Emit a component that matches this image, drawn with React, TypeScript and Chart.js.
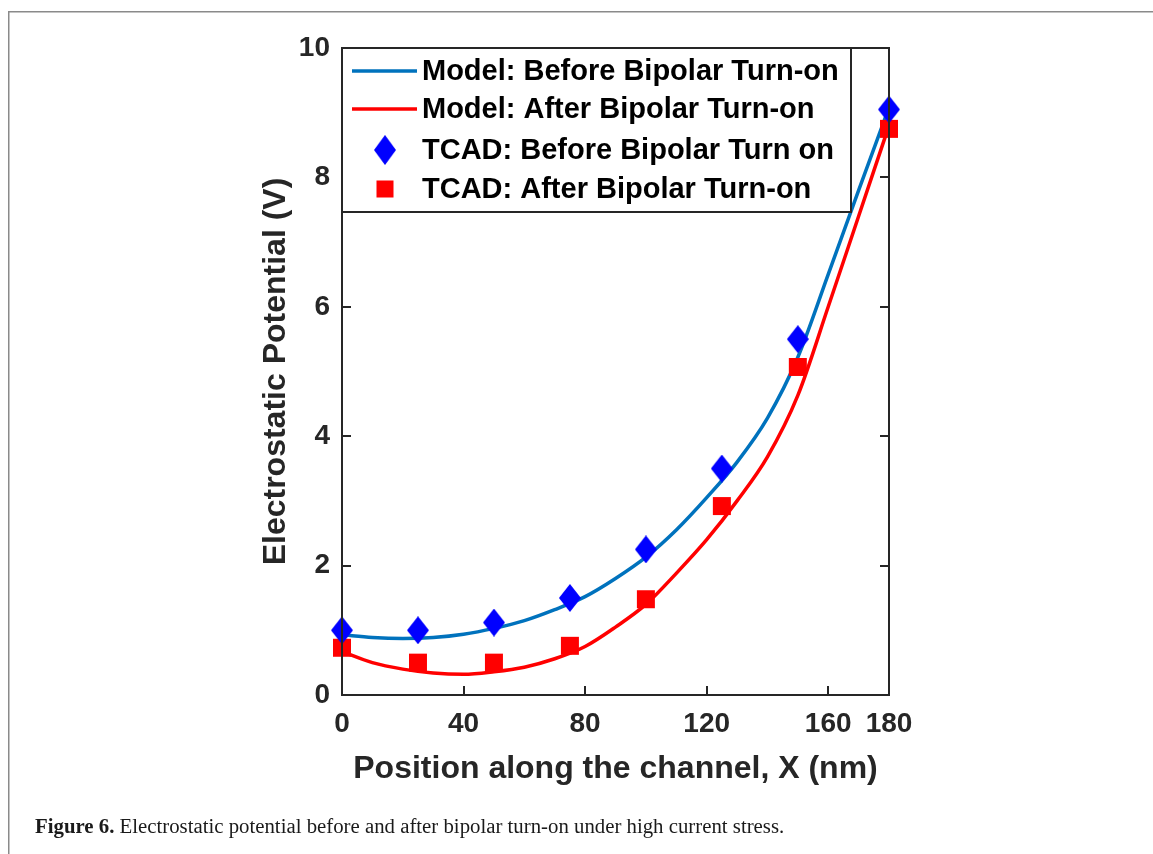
import React, { useEffect, useRef } from "react";
import { Chart, registerables } from "chart.js";

Chart.register(...registerables);

// ---------- data ----------
const modelX = [0, 10, 20, 30, 40, 50, 60, 70, 80, 90, 100, 110, 120, 130, 140, 150, 160, 170, 180];
const modelBefore = [0.93, 0.89, 0.875, 0.89, 0.94, 1.03, 1.15, 1.32, 1.52, 1.8, 2.13, 2.55, 3.05, 3.6, 4.28, 5.22, 6.5, 7.8, 9.08];
const modelAfter = [0.67, 0.5, 0.4, 0.34, 0.32, 0.36, 0.43, 0.56, 0.75, 1.05, 1.4, 1.88, 2.4, 3.0, 3.68, 4.63, 6.0, 7.4, 8.8];
const tcadX = [0, 25, 50, 75, 100, 125, 150, 180];
const tcadBefore = [1.0, 1.0, 1.12, 1.5, 2.25, 3.5, 5.5, 9.05];
const tcadAfter = [0.73, 0.5, 0.5, 0.76, 1.48, 2.92, 5.07, 8.75];
const xTickValues = [0, 40, 80, 120, 160, 180];
const yTickValues = [0, 2, 4, 6, 8, 10];
const seriesLabels = [
  "Model: Before Bipolar Turn-on",
  "Model: After Bipolar Turn-on",
  "TCAD: Before Bipolar Turn on",
  "TCAD: After Bipolar Turn-on",
];
const xTitle = "Position along the channel, X (nm)";
const yTitle = "Electrostatic Potential (V)";
const captionLead = "Figure 6.";
const captionBody = " Electrostatic potential before and after bipolar turn-on under high current stress.";

// ---------- styles ----------
const SANS = "'Liberation Sans', Arial, Helvetica, sans-serif";
const SERIF = "'Liberation Serif', 'Times New Roman', serif";
const AXIS_COLOR = "#262626";
const BLUE_LINE = "#0072BD";
const RED = "#FF0000";
const BLUE_MARK = "#0000FF";

function makeDiamond(w: number, h: number, color: string) {
  const c = document.createElement("canvas");
  c.width = w;
  c.height = h;
  const g = c.getContext("2d")!;
  g.fillStyle = color;
  g.beginPath();
  g.moveTo(w / 2, 0);
  g.lineTo(w, h / 2);
  g.lineTo(w / 2, h);
  g.lineTo(0, h / 2);
  g.closePath();
  g.fill();
  return c;
}

export default function App() {
  const ref = useRef<HTMLCanvasElement>(null);

  useEffect(() => {
    const canvas = ref.current!;
    const diamond = makeDiamond(22, 28, BLUE_MARK);
    const squareSide = 18;

    const decor = {
      id: "decor",
      beforeDraw(chart: any) {
        const { ctx, width, height } = chart;
        ctx.save();
        ctx.fillStyle = "#ffffff";
        ctx.fillRect(0, 0, width, height);
        ctx.strokeStyle = "#8a8a8a";
        ctx.lineWidth = 1.5;
        ctx.beginPath();
        ctx.moveTo(8.75, height);
        ctx.lineTo(8.75, 11.75);
        ctx.lineTo(width, 11.75);
        ctx.stroke();
        ctx.restore();
      },
      afterDraw(chart: any) {
        const { ctx, chartArea: a, scales } = chart;
        ctx.save();
        // axes box
        ctx.strokeStyle = AXIS_COLOR;
        ctx.lineWidth = 2;
        ctx.strokeRect(a.left, a.top, a.right - a.left, a.bottom - a.top);
        // inward ticks on all sides
        const tl = 9;
        ctx.beginPath();
        scales.x.ticks.forEach((t: any) => {
          const px = Math.round(scales.x.getPixelForValue(t.value));
          ctx.moveTo(px, a.bottom);
          ctx.lineTo(px, a.bottom - tl);
          ctx.moveTo(px, a.top);
          ctx.lineTo(px, a.top + tl);
        });
        scales.y.ticks.forEach((t: any) => {
          const py = Math.round(scales.y.getPixelForValue(t.value));
          ctx.moveTo(a.left, py);
          ctx.lineTo(a.left + tl, py);
          ctx.moveTo(a.right, py);
          ctx.lineTo(a.right - tl, py);
        });
        ctx.stroke();

        // legend
        const lx = a.left;
        const ly = a.top;
        const lw = 509;
        const lh = 164;
        ctx.fillStyle = "#ffffff";
        ctx.fillRect(lx, ly, lw, lh);
        ctx.strokeStyle = AXIS_COLOR;
        ctx.lineWidth = 2;
        ctx.strokeRect(lx, ly, lw, lh);
        const rows = [23, 61, 102, 141];
        const ds = chart.data.datasets;
        ctx.font = `bold 29px ${SANS}`;
        ctx.textBaseline = "middle";
        ctx.textAlign = "left";
        rows.forEach((dy, i) => {
          const cy = ly + dy;
          const d = ds[i];
          if (i < 2) {
            ctx.strokeStyle = d.borderColor;
            ctx.lineWidth = 3.5;
            ctx.beginPath();
            ctx.moveTo(lx + 10, cy);
            ctx.lineTo(lx + 75, cy);
            ctx.stroke();
          } else if (i === 2) {
            ctx.drawImage(diamond, lx + 43 - 11, cy - 15, 22, 30);
          } else {
            ctx.fillStyle = RED;
            ctx.fillRect(lx + 43 - 8.5, cy - 8.5, 17, 17);
          }
          ctx.fillStyle = "#000000";
          ctx.fillText(d.label, lx + 80, cy + 1);
        });

        // axis titles
        ctx.fillStyle = AXIS_COLOR;
        ctx.font = `bold 32px ${SANS}`;
        ctx.textAlign = "center";
        ctx.textBaseline = "middle";
        ctx.fillText(xTitle, (a.left + a.right) / 2, 769);
        ctx.save();
        ctx.translate(276, (a.top + a.bottom) / 2);
        ctx.rotate(-Math.PI / 2);
        ctx.fillText(yTitle, 0, 0);
        ctx.restore();

        // caption
        ctx.fillStyle = "#1a1a1a";
        ctx.textAlign = "left";
        ctx.textBaseline = "alphabetic";
        ctx.font = `bold 20.8px ${SERIF}`;
        ctx.fillText(captionLead, 35, 833);
        const w0 = ctx.measureText(captionLead).width;
        ctx.font = `20.8px ${SERIF}`;
        ctx.fillText(captionBody, 35 + w0, 833);
        ctx.restore();
      },
    };

    const tickFont = { family: SANS, size: 28, weight: "bold" as const };

    const chart = new Chart(canvas, {
      type: "line",
      data: {
        datasets: [
          {
            label: seriesLabels[0],
            data: modelX.map((x, i) => ({ x, y: modelBefore[i] })),
            borderColor: BLUE_LINE,
            backgroundColor: BLUE_LINE,
            borderWidth: 3.5,
            pointRadius: 0,
            cubicInterpolationMode: "monotone",
            fill: false,
            order: 2,
          },
          {
            label: seriesLabels[1],
            data: modelX.map((x, i) => ({ x, y: modelAfter[i] })),
            borderColor: RED,
            backgroundColor: RED,
            borderWidth: 3.5,
            pointRadius: 0,
            cubicInterpolationMode: "monotone",
            fill: false,
            order: 2,
          },
          {
            label: seriesLabels[2],
            data: tcadX.map((x, i) => ({ x, y: tcadBefore[i] })),
            showLine: false,
            pointStyle: diamond as any,
            pointRadius: 12,
            backgroundColor: BLUE_MARK,
            borderColor: BLUE_MARK,
            borderWidth: 0,
            clip: false as any,
            order: 1,
          },
          {
            label: seriesLabels[3],
            data: tcadX.map((x, i) => ({ x, y: tcadAfter[i] })),
            showLine: false,
            pointStyle: "rect",
            pointRadius: squareSide / Math.SQRT2,
            backgroundColor: RED,
            borderColor: RED,
            borderWidth: 0,
            clip: false as any,
            order: 1,
          },
        ],
      },
      options: {
        responsive: false,
        animation: false,
        devicePixelRatio: 1,
        events: [],
        layout: { padding: { left: 0, top: 48, right: 264, bottom: 0 } },
        plugins: {
          legend: { display: false },
          tooltip: { enabled: false },
          title: { display: false },
        },
        scales: {
          x: {
            type: "linear",
            min: 0,
            max: 180,
            afterBuildTicks: (s: any) => {
              s.ticks = xTickValues.map((v) => ({ value: v }));
            },
            afterFit: (s: any) => {
              s.height = 159;
            },
            grid: { display: false, drawTicks: false },
            border: { display: false },
            ticks: { font: tickFont, color: AXIS_COLOR, padding: 12, maxRotation: 0, autoSkip: false },
          },
          y: {
            type: "linear",
            min: 0,
            max: 10,
            afterBuildTicks: (s: any) => {
              s.ticks = yTickValues.map((v) => ({ value: v }));
            },
            afterFit: (s: any) => {
              s.width = 342;
            },
            grid: { display: false, drawTicks: false },
            border: { display: false },
            ticks: { font: tickFont, color: AXIS_COLOR, padding: 12, autoSkip: false },
          },
        },
      },
      plugins: [decor],
    });

    return () => chart.destroy();
  }, []);

  return (
    <div style={{ position: "absolute", left: 0, top: 0, width: 1153, height: 854, background: "#ffffff" }}>
      <canvas ref={ref} width={1153} height={854} style={{ display: "block", width: 1153, height: 854 }} />
    </div>
  );
}
